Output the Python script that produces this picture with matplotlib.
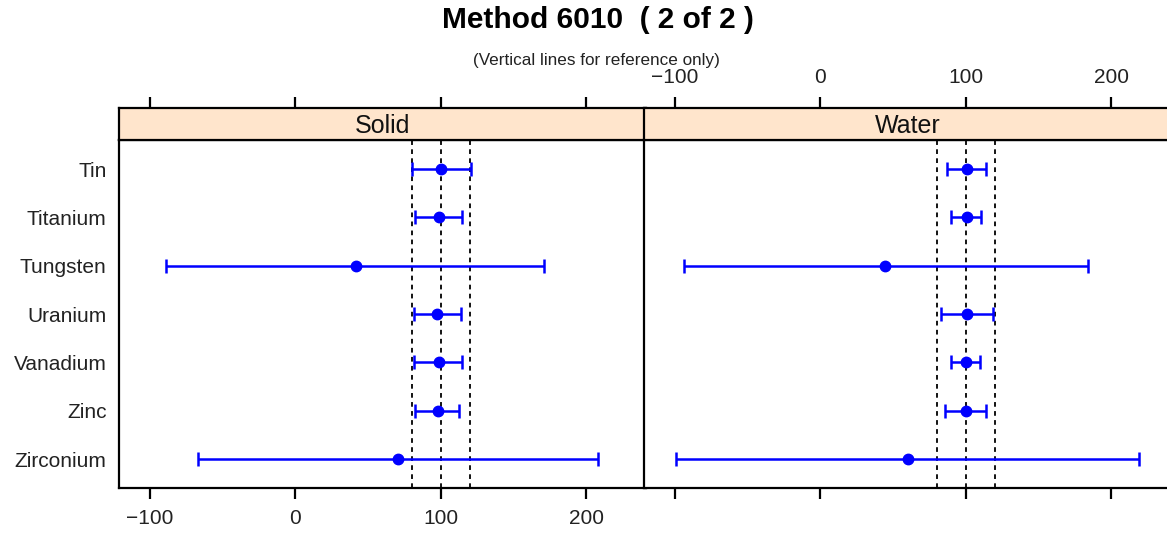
import matplotlib
matplotlib.use("Agg")
import matplotlib.pyplot as plt
import numpy as np

plt.rcParams['font.family'] = ['Liberation Sans', 'DejaVu Sans']

# Recovery (%) by element, with lower/upper limits
elements = ["Tin", "Titanium", "Tungsten", "Uranium", "Vanadium", "Zinc", "Zirconium"]

solid_mean = [100.0, 98.6, 42.0, 97.4, 98.6, 97.9, 70.5]
solid_low = [80.5, 82.3, -89.0, 81.4, 81.4, 82.5, -66.8]
solid_high = [120.5, 114.4, 171.0, 113.7, 114.4, 112.8, 208.0]

water_mean = [101.0, 100.7, 44.8, 101.0, 100.0, 100.5, 60.3]
water_low = [87.0, 90.2, -93.8, 83.2, 89.8, 86.1, -98.8]
water_high = [114.0, 110.2, 184.3, 118.6, 109.8, 114.1, 218.7]

panels = ["Solid", "Water"]
ref_lines = [80, 100, 120]
x_ticks = [-100, 0, 100, 200]

W, H = 1167, 542
fig = plt.figure(figsize=(W / 100, H / 100), dpi=100)

xlim = (-121, 241)
n = len(elements)
ypos = np.arange(1, n + 1)

panel_left = [119, 644]
panel_width = 527
panel_top, panel_bottom = 140, 488
strip_top = 108

blue = "#0000FF"
frame_lw = 1.6
tick_fs = 15

series = [(solid_mean, solid_low, solid_high), (water_mean, water_low, water_high)]

for i, (name, (mean, low, high)) in enumerate(zip(panels, series)):
    left = panel_left[i] / W
    ax = fig.add_axes([left, (H - panel_bottom) / H, panel_width / W,
                       (panel_bottom - panel_top) / H])
    sax = fig.add_axes([left, (H - panel_top) / H, panel_width / W,
                        (panel_top - strip_top) / H])

    # reference lines
    for r in ref_lines:
        ax.axvline(r, color="black", lw=1.3, ls=(0, (2.6, 2.4)), zorder=1)

    mean = np.array(mean)
    low = np.array(low)
    high = np.array(high)
    ax.errorbar(mean, ypos, xerr=[mean - low, high - mean], fmt="o",
                color=blue, ecolor=blue, elinewidth=1.8, capsize=4.8,
                capthick=1.8, markersize=7.5, zorder=3)

    ax.set_xlim(*xlim)
    ax.set_ylim(n + 0.6, 0.4)
    ax.set_xticks(x_ticks)
    ax.set_yticks(ypos)
    if i == 0:
        ax.set_yticklabels(elements, fontsize=tick_fs, color="#222222")
        ax.tick_params(axis="y", length=0, pad=9)
        ax.set_xticklabels([f"{t}".replace("-", "\u2212") for t in x_ticks],
                           fontsize=tick_fs, color="#222222")
    else:
        ax.set_yticklabels([])
        ax.tick_params(axis="y", length=0)
        ax.set_xticklabels([])
    ax.tick_params(axis="x", direction="out", length=8, width=1.6, pad=7)
    for sp in ax.spines.values():
        sp.set_linewidth(frame_lw)

    # strip with panel name, ticks on its top edge
    sax.set_facecolor("#FFE5CC")
    sax.set_xlim(*xlim)
    sax.set_ylim(0, 1)
    sax.set_yticks([])
    sax.set_xticks(x_ticks)
    sax.xaxis.set_ticks_position("top")
    sax.tick_params(axis="x", direction="out", length=8, width=1.6, pad=7,
                    labelbottom=False, labeltop=(i == 1))
    if i == 1:
        sax.set_xticklabels([f"{t}".replace("-", "\u2212") for t in x_ticks],
                            fontsize=tick_fs, color="#222222")
    for sp in sax.spines.values():
        sp.set_linewidth(frame_lw)
    sax.text(0.5, 0.45, name, transform=sax.transAxes, ha="center",
             va="center", fontsize=18, color="#111111")

fig.text(598 / W, 1 - 20 / H, "Method 6010  ( 2 of 2 )", ha="center",
         va="center", fontsize=21.5, fontweight="bold")
fig.text(596 / W, 1 - 60.5 / H, "(Vertical lines for reference only)",
         ha="center", va="center", fontsize=12.3, color="#222222")

fig.savefig("out.png", dpi=100)
